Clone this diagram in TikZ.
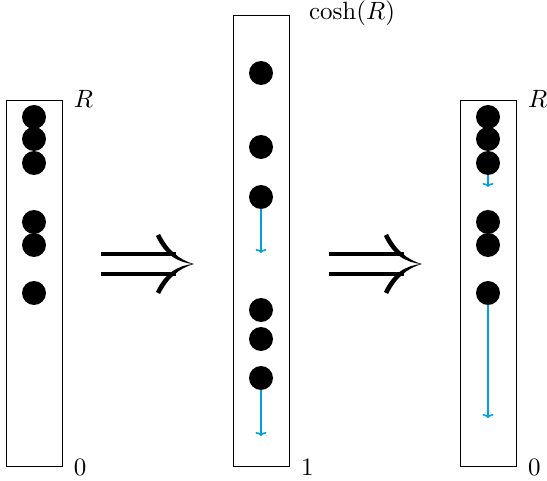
\documentclass[tikz,border=0pt]{standalone}
\usetikzlibrary{arrows.meta}
\definecolor{flowblue}{RGB}{0,160,227}
\begin{document}
\begin{tikzpicture}[x=1pt,y=-1pt,
  column/.style={draw, line width=1pt, minimum width=56pt, inner sep=0pt},
  ball/.style={circle, fill=black, minimum size=24pt, inner sep=0pt},
  drift/.style={flowblue, line width=1.6pt, -{To[length=4pt,width=11pt]}},
  tag/.style={anchor=west, scale=2.5, inner sep=0pt},
  impliesbar/.style={line width=4pt},
  implieshead/.style={fill=black}]
\useasboundingbox (0,0) rectangle (547,481);

% three columns
\node[column, minimum height=366pt] (L) at (34,284) {};
\node[column, minimum height=451pt] (M) at (261,241.5) {};
\node[column, minimum height=366pt] (Rt) at (488,284) {};

% labels at the column ends
\node[tag] at ([xshift=11pt,yshift=2pt]L.north east) {$R$};
\node[tag] at ([xshift=11pt]L.south east) {$0$};
\node[tag] at ([xshift=19pt,yshift=2pt]M.north east) {$\cosh(R)$};
\node[tag] at ([xshift=11pt]M.south east) {$1$};
\node[tag] at ([xshift=11pt,yshift=2pt]Rt.north east) {$R$};
\node[tag] at ([xshift=11pt]Rt.south east) {$0$};

% balls in the left column
\node[ball] (l1) at (34,117) {};
\node[ball] (l2) at (34,139) {};
\node[ball] (l3) at (34,163) {};
\node[ball] (l4) at (34,222) {};
\node[ball] (l5) at (34,245) {};
\node[ball] (l6) at (34,293) {};

% balls in the middle column
\node[ball] (m1) at (261,73) {};
\node[ball] (m2) at (261,147) {};
\node[ball] (m3) at (261,197) {};
\node[ball] (m4) at (261,310) {};
\node[ball] (m5) at (261,339) {};
\node[ball] (m6) at (261,378) {};

% balls in the right column
\node[ball] (r1) at (488,117) {};
\node[ball] (r2) at (488,139) {};
\node[ball] (r3) at (488,163) {};
\node[ball] (r4) at (488,222) {};
\node[ball] (r5) at (488,245) {};
\node[ball] (r6) at (488,293) {};

% drift arrows
\coordinate (m3end) at (261,253);
\coordinate (m6end) at (261,436);
\coordinate (r3end) at (488,187);
\coordinate (r6end) at (488,418);
\draw[drift] (m3.south) -- (m3end);
\draw[drift] (m6.south) -- (m6end);
\draw[drift] (r3.south) -- (r3end);
\draw[drift] (r6.south) -- (r6end);

% implication signs between the columns: two bars and a tapered head
\foreach \dx in {0,228} {
  \begin{scope}[xshift=\dx pt]
    \draw[impliesbar] (101,254) -- (176,254);
    \draw[impliesbar] (101,274) -- (176,274);
    \fill[implieshead] (160,234) .. controls (168,250) and (179,260) .. (194,264)
                                 .. controls (178,263) and (164,254) .. (156,236) -- cycle;
    \fill[implieshead] (160,294) .. controls (168,278) and (179,268) .. (194,264)
                                 .. controls (178,265) and (164,274) .. (156,292) -- cycle;
  \end{scope}
}
\end{tikzpicture}
\end{document}
